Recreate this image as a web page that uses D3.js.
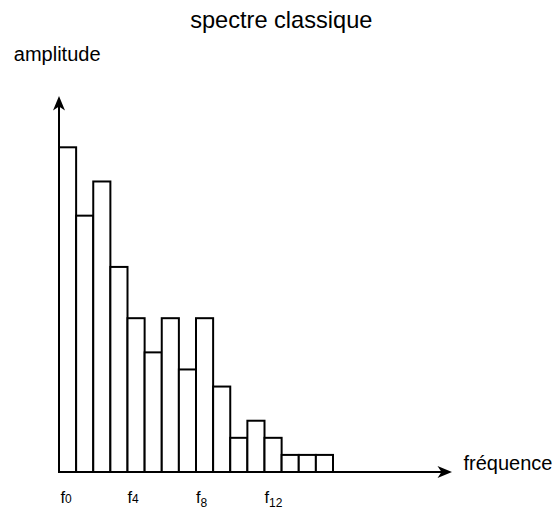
<!DOCTYPE html>
<html>
<head>
<meta charset="utf-8">
<script src="https://cdn.jsdelivr.net/npm/d3@7"></script>
<style>
  html, body { margin: 0; padding: 0; background: #fff; }
  svg { display: block; font-family: "Liberation Sans", Arial, sans-serif; }
</style>
</head>
<body>
<svg id="chart" width="555" height="512"></svg>
<script>
// Spectrum: one bar per harmonic f0..f15
const harmonics = d3.range(16);
const amplitudes = [19, 15, 17, 12, 9, 7, 9, 6, 9, 5, 2, 3, 2, 1, 1, 1];
// Harmonics that get a label under the axis
const tickHarmonics = [0, 4, 8, 12];
const tickBase = "f";

const title = "spectre classique";
const yTitle = "amplitude";
const xTitle = "fréquence";

const svg = d3.select("#chart");

const x = d3.scaleBand().domain(harmonics).range([59, 333]).padding(0);
const y = d3.scaleLinear().domain([0, 19]).range([472, 147.3]);

const x0 = x.range()[0];
const y0 = y(0);

// Bars
svg.append("g")
  .selectAll("rect")
  .data(harmonics)
  .join("rect")
  .attr("x", d => x(d))
  .attr("y", d => y(amplitudes[d]))
  .attr("width", x.bandwidth())
  .attr("height", d => y0 - y(amplitudes[d]))
  .attr("fill", "#fff")
  .attr("stroke", "#000")
  .attr("stroke-width", 2);

// Axes with arrow heads
const arrowHead = "M0,0 L-14.5,-6 L-10.5,0 L-14.5,6 Z";
const yTip = 96, xTip = 452;

svg.append("line")
  .attr("x1", x0).attr("y1", y0)
  .attr("x2", x0).attr("y2", yTip + 9)
  .attr("stroke", "#000").attr("stroke-width", 2);
svg.append("path")
  .attr("d", arrowHead)
  .attr("transform", `translate(${x0},${yTip}) rotate(-90)`)
  .attr("fill", "#000");

svg.append("line")
  .attr("x1", x0 - 1).attr("y1", y0)
  .attr("x2", xTip - 9).attr("y2", y0)
  .attr("stroke", "#000").attr("stroke-width", 2);
svg.append("path")
  .attr("d", arrowHead)
  .attr("transform", `translate(${xTip},${y0})`)
  .attr("fill", "#000");

// Tick labels: f with the harmonic index
const subDrop = { 0: 0, 4: 0, 8: 4.5, 12: 4.5 };
const ticks = svg.append("g")
  .selectAll("text")
  .data(tickHarmonics)
  .join("text")
  .attr("x", d => x(d) + (d === 0 ? 1.5 : 0))
  .attr("y", 502.7)
  .attr("font-size", 16.5)
  .attr("fill", "#000");
ticks.append("tspan").text(tickBase);
ticks.append("tspan")
  .attr("font-size", 12)
  .attr("dy", d => subDrop[d])
  .text(d => d);

// Titles
svg.append("text")
  .attr("x", 281.3).attr("y", 28)
  .attr("text-anchor", "middle")
  .attr("font-size", 23.6)
  .attr("fill", "#000")
  .text(title);

svg.append("text")
  .attr("x", 13.8).attr("y", 60.7)
  .attr("font-size", 20)
  .attr("fill", "#000")
  .text(yTitle);

svg.append("text")
  .attr("x", 463.5).attr("y", 469.5)
  .attr("font-size", 20)
  .attr("fill", "#000")
  .text(xTitle);
</script>
</body>
</html>
